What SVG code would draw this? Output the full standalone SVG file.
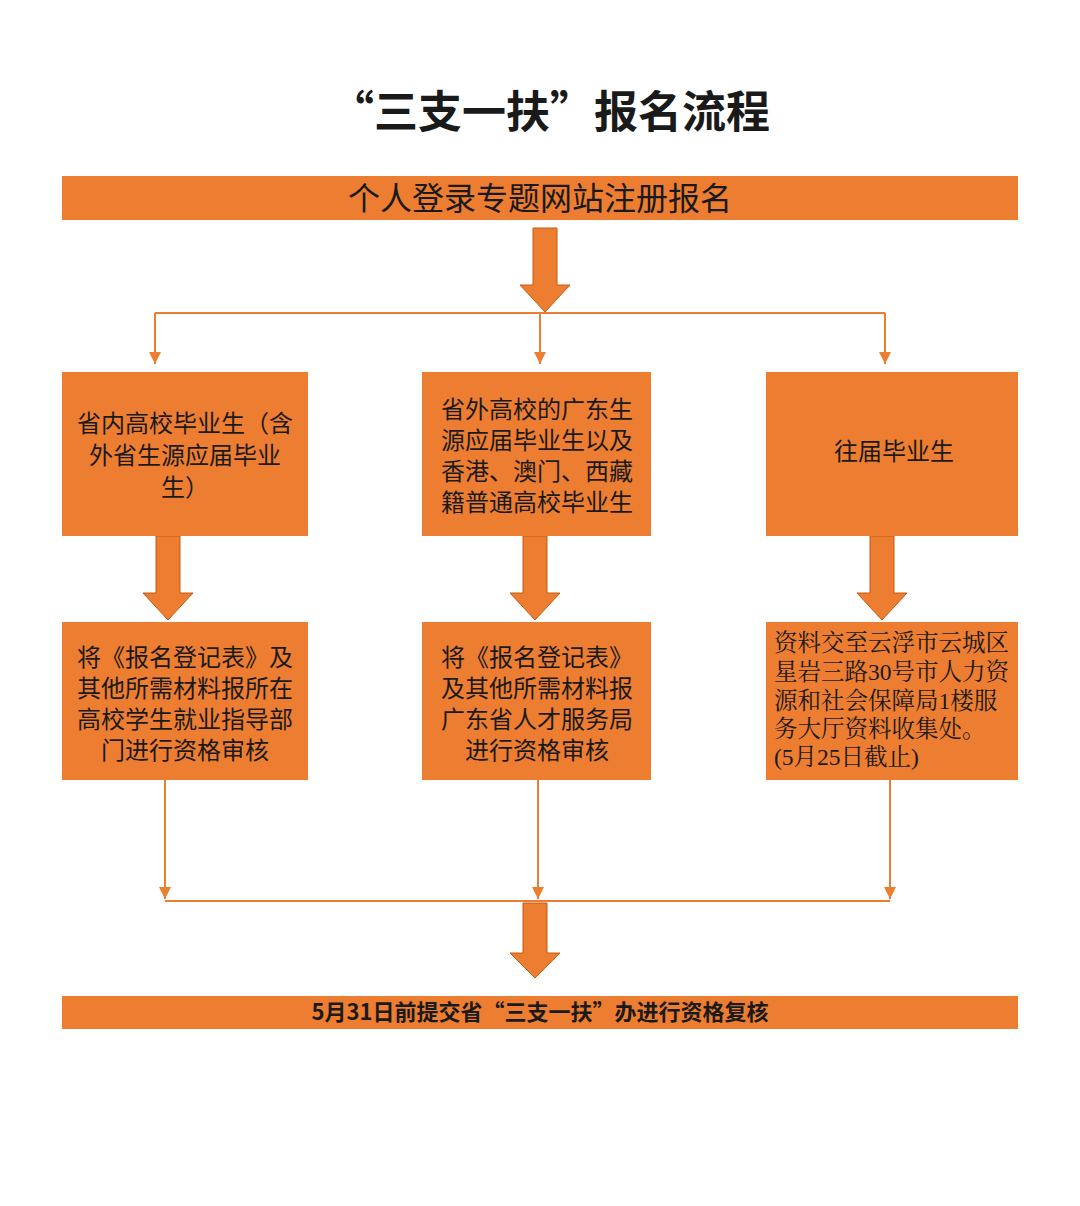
<svg xmlns="http://www.w3.org/2000/svg" width="1080" height="1206" viewBox="0 0 1080 1206">
<style>
.b{fill:#ED7D31}
.t{font-family:"Noto Sans CJK SC",sans-serif;font-size:24px;fill:#1a1a1a}
.s{font-family:"Liberation Serif","Noto Serif CJK SC","Noto Sans CJK SC",serif;font-size:23.5px;fill:#1a1a1a}
.l{stroke:#ED7D31;stroke-width:2;fill:none}
.big{fill:#ED7D31;stroke:#C55A11;stroke-width:1}
</style>
<defs><marker id="a" viewBox="0 0 10 10" refX="10" refY="5" markerWidth="6" markerHeight="6" orient="auto" markerUnits="strokeWidth"><path d="M0,0 L10,5 L0,10 z" fill="#ED7D31"/></marker>
<path id="ba" d="M-12,0 H12 V57 H25 L0,84 L-25,57 H-12 Z"/>
<path id="bb" d="M-12,0 H12 V50 H25 L0,75 L-25,50 H-12 Z"/></defs>
<rect width="1080" height="1206" fill="#fff"/>
<text x="550" y="128" text-anchor="middle" font-family="Noto Sans CJK SC,sans-serif" font-weight="bold" font-size="44" fill="#1a1a1a">“三支一扶”报名流程</text>
<g id="connectors">
<use href="#ba" x="545" y="228" class="big"/>
<path class="l" d="M155,313 H885"/>
<path class="l" d="M155,313 V364" marker-end="url(#a)"/>
<path class="l" d="M540,313 V364" marker-end="url(#a)"/>
<path class="l" d="M885,313 V364" marker-end="url(#a)"/>
<use href="#ba" x="168" y="536" class="big"/>
<use href="#ba" x="535" y="536" class="big"/>
<use href="#ba" x="882" y="536" class="big"/>
<path class="l" d="M165,780 V899" marker-end="url(#a)"/>
<path class="l" d="M538,780 V899" marker-end="url(#a)"/>
<path class="l" d="M890,780 V899" marker-end="url(#a)"/>
<path class="l" d="M165,901 H890"/>
<use href="#bb" x="535" y="903" class="big"/>
</g>
<g id="n0"><rect class="b" x="62" y="176" width="956" height="44"/><text x="540" y="210" text-anchor="middle" class="t" style="font-size:32px">个人登录专题网站注册报名</text></g>
<g id="n1"><rect class="b" x="62" y="372" width="246" height="164"/><text class="t" text-anchor="middle"><tspan x="185" y="432">省内高校毕业生（含</tspan><tspan x="185" y="464">外省生源应届毕业</tspan><tspan x="185" y="496">生）</tspan></text></g>
<g id="n2"><rect class="b" x="422" y="372" width="229" height="164"/><text class="t" text-anchor="middle"><tspan x="537" y="418">省外高校的广东生</tspan><tspan x="537" y="449">源应届毕业生以及</tspan><tspan x="537" y="480">香港、澳门、西藏</tspan><tspan x="537" y="511">籍普通高校毕业生</tspan></text></g>
<g id="n3"><rect class="b" x="766" y="372" width="252" height="164"/><text class="t" text-anchor="middle" x="894" y="460">往届毕业生</text></g>
<g id="n4"><rect class="b" x="62" y="622" width="246" height="158"/><text class="t" text-anchor="middle"><tspan x="185" y="666">将《报名登记表》及</tspan><tspan x="185" y="697">其他所需材料报所在</tspan><tspan x="185" y="728">高校学生就业指导部</tspan><tspan x="185" y="759">门进行资格审核</tspan></text></g>
<g id="n5"><rect class="b" x="422" y="622" width="229" height="158"/><text class="t" text-anchor="middle"><tspan x="537" y="666">将《报名登记表》</tspan><tspan x="537" y="697">及其他所需材料报</tspan><tspan x="537" y="728">广东省人才服务局</tspan><tspan x="537" y="759">进行资格审核</tspan></text></g>
<g id="n6"><rect class="b" x="766" y="622" width="252" height="158"/><text class="s"><tspan x="774" y="651">资料交至云浮市云城区</tspan><tspan x="774" y="680">星岩三路30号市人力资</tspan><tspan x="774" y="709">源和社会保障局1楼服</tspan><tspan x="774" y="737">务大厅资料收集处。</tspan><tspan x="774" y="765">(5月25日截止)</tspan></text></g>
<g id="n7"><rect class="b" x="62" y="996" width="956" height="33"/><text x="540" y="1020" text-anchor="middle" class="t" style="font-size:22px;font-weight:bold">5月31日前提交省“三支一扶”办进行资格复核</text></g>
</svg>
